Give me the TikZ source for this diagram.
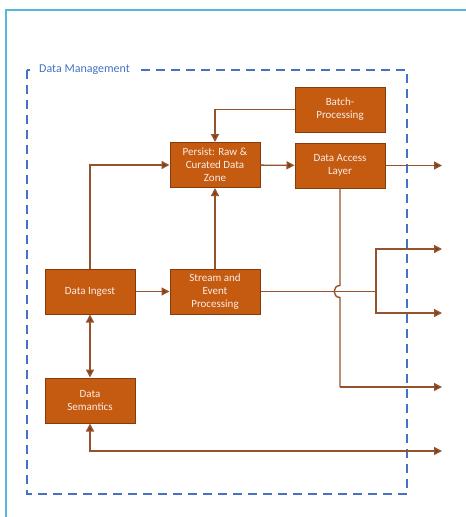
\documentclass[tikz,border=0pt]{standalone}
\usepackage{fontspec}
\setmainfont{Carlito}
\usetikzlibrary{arrows.meta}
\definecolor{boxfill}{HTML}{C55A11}
\definecolor{boxborder}{HTML}{843C0C}
\definecolor{linec}{HTML}{94532C}
\definecolor{arrowc}{HTML}{843C0C}
\definecolor{dashc}{HTML}{4472C4}
\definecolor{framec}{HTML}{55B6DC}
\definecolor{boxtext}{HTML}{FBEDE6}
\begin{document}
\begin{tikzpicture}[x=1pt,y=-1pt,
  box/.style={draw=boxborder, fill=boxfill, line width=1pt, minimum width=90pt, minimum height=45pt,
    align=center, text=boxtext, inner sep=2pt, font=\fontsize{11}{13}\selectfont},
  wire/.style={draw=linec, line width=1.4pt},
  conn/.style={wire, -{Triangle[length=8pt,width=8pt,fill=arrowc]}},
  biconn/.style={wire, {Triangle[length=8pt,width=8pt,fill=arrowc]}-{Triangle[length=8pt,width=8pt,fill=arrowc]}},
]
\useasboundingbox (0,0) rectangle (466,517);
% outer frame
\draw[framec, line width=2pt] (6,520) -- (6,10) -- (470,10);
% dashed container
\draw[dashc, line width=2.2pt, dash pattern=on 9pt off 6pt] (27,70) rectangle (407,494);
\node[fill=white, text=dashc, inner xsep=5pt, inner ysep=1pt, font=\fontsize{12}{13}\selectfont, anchor=west] (lbl) at (34,70) {Data Management};

% boxes
\node[box] (batch) at (340,109.5) {Batch-\\Processing};
\node[box] (persist) at (215,165) {Persist: Raw \&\\Curated Data\\Zone};
\node[box] (dal) at (340,165.5) {Data Access\\Layer};
\node[box] (ingest) at (90,291.5) {Data Ingest};
\node[box] (stream) at (215,291.5) {Stream and\\Event\\Processing};
\node[box] (sem) at (90,400.5) {Data\\Semantics};

% free ends
\coordinate (o1) at (442,165.5);
\coordinate (o2) at (442,249);
\coordinate (o3) at (442,313);
\coordinate (o4) at (442,387);
\coordinate (o5) at (442,451);
\coordinate (j) at (376,291.5);
\coordinate (hop) at (340,291.5);
\coordinate (dalturn) at (340,387);

% connectors
\draw[conn] (batch.west) -| (persist.north);
\draw[conn] (ingest.north) |- (persist.west);
\draw[conn] (stream.north) -- (persist.south);
\draw[conn] (persist) -- (dal);
\draw[conn] (dal.east) -- (o1);
\draw[conn] (ingest) -- (stream);
\draw[wire] (stream.east) -- (j);
\draw[conn] (j) |- (o2);
\draw[conn] (j) |- (o3);
\draw[wire] (dal.south) -- ([yshift=6pt]hop) to[out=180,in=180,looseness=1.65] ([yshift=-6pt]hop) -- (dalturn);
\draw[conn] (dalturn) -- (o4);
\draw[biconn] (ingest) -- (sem);
\draw[biconn] (sem.south) |- (o5);
\end{tikzpicture}
\end{document}
